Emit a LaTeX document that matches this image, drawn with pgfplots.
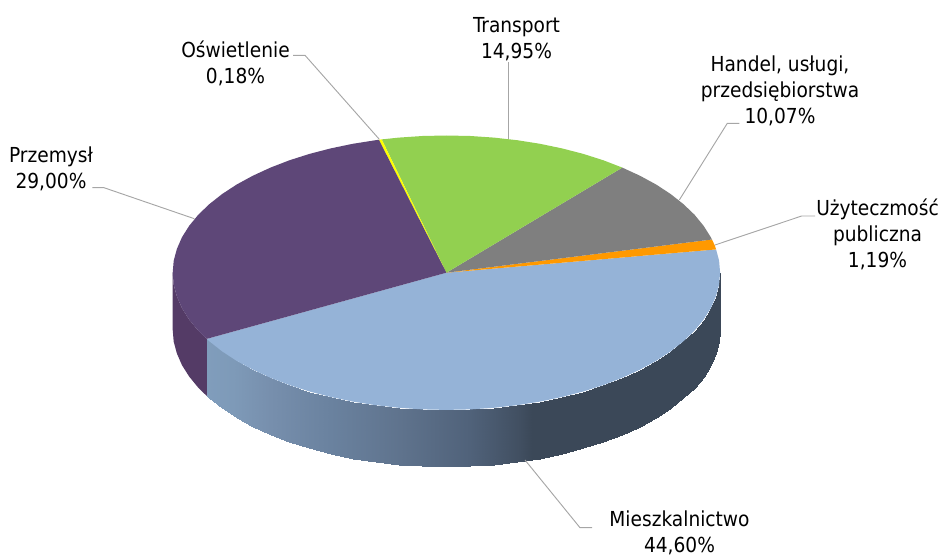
\documentclass[border=0pt]{standalone}
\usepackage{pgfplots}
\usepackage{fontspec}
\setmainfont{DejaVu Sans Condensed}
\pgfplotsset{compat=1.18}
\definecolor{cPur}{HTML}{5E4778}
\definecolor{cPurS}{HTML}{543B66}
\definecolor{cGre}{HTML}{92D050}
\definecolor{cGra}{HTML}{7F7F7F}
\definecolor{cOra}{HTML}{FF9900}
\definecolor{cYel}{HTML}{FFFF00}
\definecolor{cBlu}{HTML}{95B3D7}
\definecolor{cLead}{HTML}{A6A6A6}
\begin{document}
\begin{tikzpicture}
\useasboundingbox (0,0) rectangle (705pt,417pt);
\begin{axis}[
  at={(0,0)}, anchor=south west,
  scale only axis, width=705pt, height=417pt,
  xmin=0, xmax=940, ymin=0, ymax=556, y dir=reverse,
  hide axis, clip=false,
  colormap={side}{rgb255(0pt)=(128,157,188); rgb255(26pt)=(126,154,184); rgb255(63pt)=(119,143,173); rgb255(123pt)=(106,130,159); rgb255(193pt)=(95,115,141); rgb255(263pt)=(80,98,122); rgb255(313pt)=(65,79,97); rgb255(325pt)=(59,72,88); rgb255(513pt)=(59,72,88)},
]
% left wall of Przemysl
\addplot[fill=cPurS, draw=none] coordinates {
 (172.7,272.7)(173.7,284.7)(176.9,296.5)(182.0,308.2)(189.2,319.6)(198.3,330.7)(206.7,338.9)(208.2,340.2)
 (208.2,397.2)(206.7,395.9)(198.3,387.7)(189.2,376.6)(182.0,365.2)(176.9,353.5)(173.7,341.7)(172.7,329.7)} --cycle;
% wall of Mieszkalnictwo
\addplot[surf, shader=interp, mesh/rows=2, point meta=x, point meta min=207, point meta max=720] coordinates {
 (206.7,338.9)(209.4,341.3)(222.2,351.4)(236.7,360.9)(252.9,369.7)(270.5,377.8)(289.4,385.1)(309.5,391.5)(330.7,397.0)(352.8,401.6)(375.6,405.2)(398.9,407.8)(422.5,409.4)(446.4,409.9)(470.3,409.4)(493.9,407.8)(517.2,405.2)(540.0,401.6)(562.1,397.0)(583.3,391.5)(603.4,385.1)(622.3,377.8)(639.9,369.7)(656.1,360.9)(670.6,351.4)(683.4,341.3)(694.5,330.7)(703.6,319.6)(710.8,308.2)(715.9,296.5)(719.1,284.7)(720.1,272.7)

 (206.7,395.9)(209.4,398.3)(222.2,408.4)(236.7,417.9)(252.9,426.7)(270.5,434.8)(289.4,442.1)(309.5,448.5)(330.7,454.0)(352.8,458.6)(375.6,462.2)(398.9,464.8)(422.5,466.4)(446.4,466.9)(470.3,466.4)(493.9,464.8)(517.2,462.2)(540.0,458.6)(562.1,454.0)(583.3,448.5)(603.4,442.1)(622.3,434.8)(639.9,426.7)(656.1,417.9)(670.6,408.4)(683.4,398.3)(694.5,387.7)(703.6,376.6)(710.8,365.2)(715.9,353.5)(719.1,341.7)(720.1,329.7)
};
% top: Mieszkalnictwo
\addplot[fill=cBlu, draw=none] coordinates {
 (446.4,272.7)(206.7,338.9)(209.4,341.3)(222.2,351.4)(236.7,360.9)(252.9,369.7)(270.5,377.8)(289.4,385.1)(309.5,391.5)(330.7,397.0)(352.8,401.6)(375.6,405.2)(398.9,407.8)(422.5,409.4)(446.4,409.9)(470.3,409.4)(493.9,407.8)(517.2,405.2)(540.0,401.6)(562.1,397.0)(583.3,391.5)(603.4,385.1)(622.3,377.8)(639.9,369.7)(656.1,360.9)(670.6,351.4)(683.4,341.3)(694.5,330.7)(703.6,319.6)(710.8,308.2)(715.9,296.5)(719.1,284.7)(720.1,272.7)(719.1,260.7)(716.1,249.4)} --cycle;
% top: Uzytecznosc publiczna
\addplot[fill=cOra, draw=none] coordinates {(446.4,272.7)(716.1,249.4)(715.0,246.0)(712.0,239.5)} --cycle;
% top: Handel
\addplot[fill=cGra, draw=none] coordinates {
 (446.4,272.7)(712.0,239.5)(710.8,237.2)(703.6,225.8)(694.5,214.7)(683.4,204.1)(670.6,194.0)(656.1,184.5)(639.9,175.7)(622.3,167.6)} --cycle;
% top: Transport
\addplot[fill=cGre, draw=none] coordinates {
 (446.4,272.7)(622.3,167.6)(603.4,160.3)(583.3,153.9)(562.1,148.4)(540.0,143.8)(517.2,140.2)(493.9,137.6)(470.3,136.0)(446.4,135.5)(422.5,136.0)(398.9,137.6)(381.7,139.4)} --cycle;
% top: Oswietlenie
\addplot[fill=cYel, draw=none] coordinates {(446.4,272.7)(381.7,139.4)(378.9,139.8)} --cycle;
% top: Przemysl
\addplot[fill=cPur, draw=none] coordinates {
 (446.4,272.7)(378.9,139.8)(375.6,140.2)(352.8,143.8)(330.7,148.4)(309.5,153.9)(289.4,160.3)(270.5,167.6)(252.9,175.7)(236.7,184.5)(222.2,194.0)(209.4,204.1)(198.3,214.7)(189.2,225.8)(182.0,237.2)(176.9,248.9)(173.7,260.7)(172.7,272.7)(173.7,284.7)(176.9,296.5)(182.0,308.2)(189.2,319.6)(198.3,330.7)(206.7,338.9)} --cycle;
% leaders
\addplot[cLead, line width=0.7pt] coordinates {(293,55.3)(305,55.3)(379.3,139.3)};
\addplot[cLead, line width=0.7pt] coordinates {(508.3,62)(508.3,139.5)};
\addplot[cLead, line width=0.7pt] coordinates {(739.3,123.3)(727.3,123.3)(679.3,200)};
\addplot[cLead, line width=0.7pt] coordinates {(815,216)(801.7,216)(715,245)};
\addplot[cLead, line width=0.7pt] coordinates {(92.3,187.7)(104,187.7)(194.3,218.7)};
\addplot[cLead, line width=0.7pt] coordinates {(525,460)(580,527.7)(592,527.7)};
% labels
\tikzset{lab/.style={align=center, font=\fontsize{15.5}{19.4}\selectfont, inner sep=0pt, text=black}}
\node[lab] at (axis cs:516.5,39) {Transport\\14,95\%};
\node[lab] at (axis cs:235.5,63) {Oświetlenie\\0,18\%};
\node[lab] at (axis cs:780,90.5) {Handel, usługi,\\przedsiębiorstwa\\10,07\%};
\node[lab] at (axis cs:877.5,234.5) {Użyteczmość\\publiczna\\1,19\%};
\node[lab] at (axis cs:51,168.5) {Przemysł\\29,00\%};
\node[lab] at (axis cs:679.5,532.5) {Mieszkalnictwo\\44,60\%};
\end{axis}
\end{tikzpicture}
\end{document}
